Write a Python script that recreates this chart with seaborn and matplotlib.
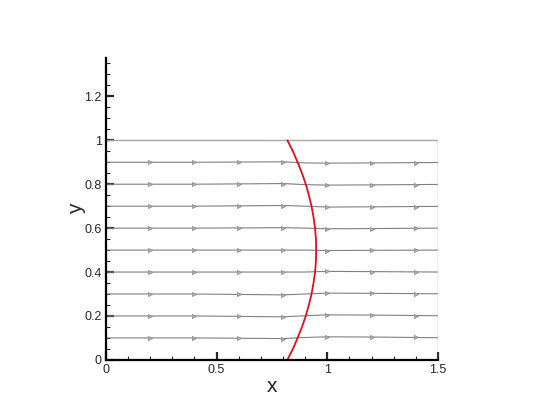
import matplotlib
matplotlib.use("Agg")
import matplotlib.pyplot as plt
from matplotlib.ticker import MultipleLocator, FuncFormatter
import seaborn as sns
import pandas as pd
import numpy as np

sns.set_style("white")
plt.rcParams['font.family'] = ['Liberation Sans', 'DejaVu Sans']

# streamline start heights
stream_y0 = [0.1, 0.2, 0.3, 0.4, 0.5, 0.6, 0.7, 0.8, 0.9]
# x stations along each streamline
stream_x = [0.0, 0.4, 0.8, 0.9, 1.0, 1.2, 1.5]
# vertical offsets of each streamline at those stations
stream_dy = [
    [0.0, 0.0, -0.003, 0.002, 0.005, 0.004, 0.001],
    [0.0, 0.0, -0.004, 0.001, 0.005, 0.004, 0.001],
    [0.0, 0.0, -0.004, 0.000, 0.004, 0.003, 0.001],
    [0.0, 0.0, 0.000, 0.000, 0.003, 0.002, 0.000],
    [0.0, 0.0, 0.000, 0.000, -0.002, -0.001, 0.000],
    [0.0, 0.0, 0.002, 0.000, -0.003, -0.002, 0.000],
    [0.0, 0.0, 0.003, 0.000, -0.004, -0.003, -0.001],
    [0.0, 0.0, 0.003, -0.002, -0.004, -0.003, -0.001],
    [0.0, 0.0, 0.002, -0.003, -0.004, -0.003, -0.001],
]
arrow_x = [0.2, 0.4, 0.6, 0.8, 1.0, 1.2, 1.4]

# shock curve
shock_y = [0.0, 0.05, 0.1, 0.15, 0.2, 0.25, 0.3, 0.35, 0.4, 0.45, 0.5,
           0.55, 0.6, 0.65, 0.7, 0.75, 0.8, 0.85, 0.9, 0.95, 1.0]
shock_x = [0.820, 0.845, 0.866, 0.886, 0.903, 0.917, 0.929, 0.938, 0.945, 0.949, 0.950,
           0.949, 0.945, 0.938, 0.929, 0.917, 0.903, 0.886, 0.866, 0.845, 0.820]

fig = plt.figure(figsize=(5.4, 4.17), dpi=100)
ax = fig.add_axes([0.196, 0.137, 0.615, 0.724])

gray = "#808080"
rows = []
for i, y0 in enumerate(stream_y0):
    for xv, dy in zip(stream_x, stream_dy[i]):
        rows.append({"line": i, "x": xv, "y": y0 + dy})
df = pd.DataFrame(rows)
sns.lineplot(data=df, x="x", y="y", units="line", estimator=None, sort=False,
             color=gray, lw=0.8, ax=ax)

# arrows
for i, y0 in enumerate(stream_y0):
    ay = np.interp(arrow_x, stream_x, [y0 + d for d in stream_dy[i]])
    ax.plot(arrow_x, ay, linestyle="none", marker=">", ms=3.0, color="#b0b0b0",
            mec="#8a8a8a", mew=0.5)

# domain box
ax.plot([0, 1.5, 1.5], [1.0, 1.0, 0.0], color="#a8a8a8", lw=1.0)

shock = pd.DataFrame({"x": shock_x, "y": shock_y})
sns.lineplot(data=shock, x="x", y="y", sort=False, estimator=None,
             color="#e0101a", lw=1.3, ax=ax)

ax.set_xlim(0, 1.5)
ax.set_ylim(0, 1.375)
for s in ["top", "right"]:
    ax.spines[s].set_visible(False)
for s in ["left", "bottom"]:
    ax.spines[s].set_linewidth(1.6)
    ax.spines[s].set_color("black")

ax.xaxis.set_major_locator(MultipleLocator(0.5))
ax.xaxis.set_minor_locator(MultipleLocator(0.1))
ax.yaxis.set_major_locator(MultipleLocator(0.2))
ax.yaxis.set_minor_locator(MultipleLocator(0.05))
fmt = FuncFormatter(lambda v, p: ("%g" % round(v, 3)))
ax.xaxis.set_major_formatter(fmt)
ax.yaxis.set_major_formatter(fmt)
ax.tick_params(which="major", direction="in", length=6, width=1.6, labelsize=9,
               bottom=True, left=True, pad=3)
ax.tick_params(which="minor", direction="in", length=3, width=0.8, bottom=True, left=True)

ax.set_xlabel("x", fontsize=15, labelpad=1)
ax.set_ylabel("y", fontsize=15, labelpad=-1)

fig.savefig("out.png", dpi=100)
